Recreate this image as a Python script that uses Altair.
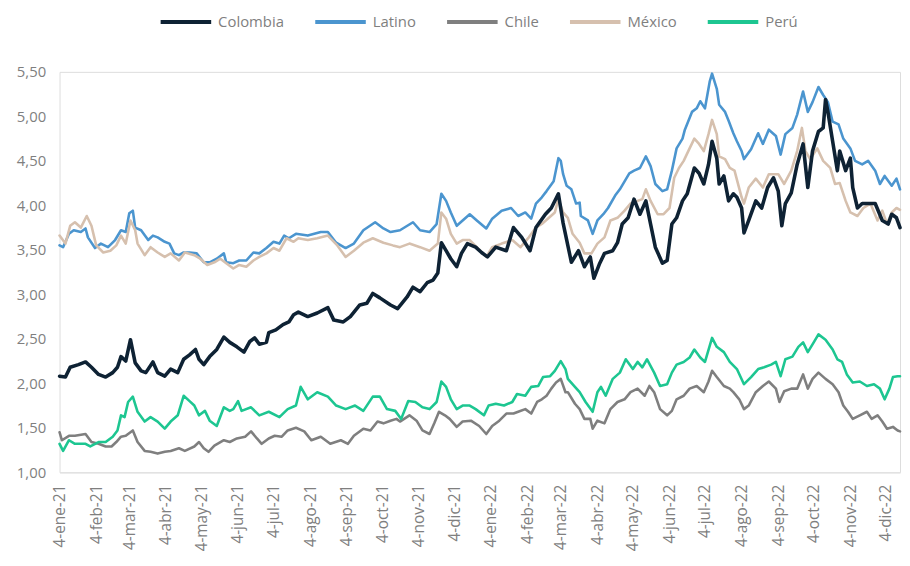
import altair as alt
import pandas as pd

SERIES = ["Colombia", "Latino", "Chile", "México", "Perú"]
COLORS = ["#0e2234", "#4b95cf", "#7f7f7f", "#d6c0ae", "#1dc691"]
WIDTHS = [3.6, 2.6, 2.6, 2.6, 2.6]
DRAW_ORDER = ["Latino", "México", "Chile", "Perú", "Colombia"]
MESES = ["ene", "feb", "mar", "abr", "may", "jun", "jul", "ago", "sep", "oct", "nov", "dic"]

colombia_dates = ["2021-01-04","2021-01-09","2021-01-13","2021-01-20","2021-01-26","2021-01-31","2021-02-06","2021-02-12","2021-02-18","2021-02-22","2021-02-25","2021-03-01","2021-03-05","2021-03-09","2021-03-14","2021-03-18","2021-03-24","2021-03-28","2021-04-03","2021-04-08","2021-04-14","2021-04-19","2021-04-24","2021-04-29","2021-05-02","2021-05-06","2021-05-11","2021-05-17","2021-05-23","2021-05-28","2021-06-03","2021-06-09","2021-06-14","2021-06-18","2021-06-22","2021-06-28","2021-06-30","2021-07-06","2021-07-12","2021-07-17","2021-07-21","2021-07-25","2021-08-02","2021-08-10","2021-08-19","2021-08-24","2021-09-01","2021-09-07","2021-09-15","2021-09-21","2021-09-26","2021-10-02","2021-10-11","2021-10-17","2021-10-25","2021-10-30","2021-11-05","2021-11-11","2021-11-16","2021-11-20","2021-11-23","2021-11-27","2021-12-01","2021-12-06","2021-12-10","2021-12-15","2021-12-22","2021-12-27","2022-01-01","2022-01-08","2022-01-17","2022-01-23","2022-01-30","2022-02-06","2022-02-11","2022-02-19","2022-02-24","2022-03-02","2022-03-06","2022-03-13","2022-03-19","2022-03-24","2022-03-29","2022-04-01","2022-04-06","2022-04-10","2022-04-17","2022-04-21","2022-04-25","2022-04-30","2022-05-05","2022-05-10","2022-05-15","2022-05-19","2022-05-23","2022-05-29","2022-06-02","2022-06-06","2022-06-10","2022-06-15","2022-06-19","2022-06-25","2022-06-29","2022-07-03","2022-07-07","2022-07-10","2022-07-14","2022-07-16","2022-07-20","2022-07-24","2022-07-28","2022-07-31","2022-08-04","2022-08-06","2022-08-10","2022-08-16","2022-08-21","2022-08-26","2022-08-31","2022-09-04","2022-09-07","2022-09-10","2022-09-15","2022-09-20","2022-09-25","2022-09-29","2022-10-03","2022-10-08","2022-10-12","2022-10-14","2022-10-16","2022-10-20","2022-10-24","2022-10-26","2022-10-31","2022-11-04","2022-11-06","2022-11-10","2022-11-14","2022-11-19","2022-11-25","2022-12-01","2022-12-06","2022-12-09","2022-12-13","2022-12-16"]
colombia_vals = [2.08,2.07,2.18,2.21,2.24,2.18,2.10,2.07,2.12,2.18,2.30,2.25,2.49,2.23,2.14,2.12,2.24,2.12,2.08,2.16,2.12,2.27,2.32,2.38,2.27,2.21,2.30,2.38,2.52,2.46,2.41,2.35,2.47,2.51,2.44,2.46,2.57,2.60,2.66,2.69,2.77,2.80,2.75,2.79,2.85,2.71,2.69,2.75,2.88,2.90,3.01,2.96,2.88,2.84,2.97,3.08,3.03,3.13,3.16,3.24,3.58,3.49,3.40,3.31,3.46,3.57,3.53,3.47,3.42,3.53,3.49,3.75,3.64,3.49,3.75,3.90,3.97,4.13,3.80,3.36,3.49,3.31,3.42,3.18,3.35,3.46,3.49,3.58,3.79,3.86,4.07,3.90,4.05,3.79,3.53,3.35,3.38,3.79,3.86,4.05,4.13,4.42,4.36,4.24,4.46,4.72,4.53,4.24,4.33,4.05,4.13,4.09,3.97,3.69,3.83,4.05,3.97,4.20,4.31,4.16,3.77,4.02,4.14,4.46,4.69,4.20,4.61,4.83,4.87,5.19,5.05,4.72,4.39,4.61,4.39,4.53,4.20,3.97,4.02,4.02,4.02,3.83,3.79,3.90,3.86,3.75]

latino_dates = ["2021-01-04","2021-01-07","2021-01-12","2021-01-16","2021-01-22","2021-01-26","2021-01-28","2021-02-03","2021-02-08","2021-02-14","2021-02-20","2021-02-25","2021-03-01","2021-03-04","2021-03-07","2021-03-09","2021-03-14","2021-03-20","2021-03-24","2021-03-28","2021-04-03","2021-04-07","2021-04-11","2021-04-15","2021-04-19","2021-04-24","2021-04-30","2021-05-06","2021-05-11","2021-05-17","2021-05-23","2021-05-25","2021-05-31","2021-06-05","2021-06-11","2021-06-17","2021-06-22","2021-06-28","2021-07-04","2021-07-09","2021-07-13","2021-07-17","2021-07-23","2021-08-02","2021-08-13","2021-08-19","2021-08-26","2021-09-03","2021-09-10","2021-09-18","2021-09-28","2021-10-05","2021-10-11","2021-10-19","2021-10-30","2021-11-05","2021-11-13","2021-11-19","2021-11-23","2021-11-27","2021-12-01","2021-12-06","2021-12-11","2021-12-17","2021-12-23","2021-12-31","2022-01-05","2022-01-13","2022-01-21","2022-01-27","2022-02-02","2022-02-07","2022-02-11","2022-02-16","2022-02-20","2022-02-26","2022-03-02","2022-03-04","2022-03-06","2022-03-09","2022-03-13","2022-03-17","2022-03-20","2022-03-21","2022-03-27","2022-03-31","2022-04-04","2022-04-09","2022-04-13","2022-04-19","2022-04-23","2022-04-27","2022-05-01","2022-05-05","2022-05-10","2022-05-15","2022-05-19","2022-05-23","2022-05-29","2022-06-02","2022-06-06","2022-06-10","2022-06-15","2022-06-17","2022-06-23","2022-06-27","2022-06-30","2022-07-04","2022-07-08","2022-07-10","2022-07-14","2022-07-16","2022-07-21","2022-07-24","2022-07-28","2022-07-31","2022-08-04","2022-08-06","2022-08-12","2022-08-18","2022-08-22","2022-08-27","2022-09-02","2022-09-06","2022-09-10","2022-09-16","2022-09-20","2022-09-25","2022-09-29","2022-10-03","2022-10-08","2022-10-12","2022-10-16","2022-10-20","2022-10-25","2022-10-29","2022-11-04","2022-11-08","2022-11-14","2022-11-19","2022-11-25","2022-11-29","2022-12-03","2022-12-09","2022-12-13","2022-12-16"]
latino_vals = [3.55,3.53,3.68,3.72,3.70,3.74,3.64,3.52,3.57,3.53,3.61,3.72,3.70,3.91,3.94,3.75,3.72,3.61,3.66,3.64,3.59,3.57,3.46,3.44,3.47,3.47,3.46,3.36,3.36,3.40,3.46,3.36,3.35,3.38,3.38,3.47,3.46,3.52,3.59,3.57,3.66,3.63,3.68,3.66,3.70,3.70,3.58,3.52,3.57,3.72,3.81,3.74,3.70,3.72,3.81,3.72,3.70,3.79,4.13,4.05,3.92,3.77,3.83,3.90,3.83,3.74,3.85,3.94,3.97,3.88,3.92,3.85,4.02,4.09,4.16,4.27,4.53,4.50,4.35,4.22,4.18,4.02,4.03,3.88,3.83,3.68,3.83,3.90,3.97,4.11,4.18,4.27,4.36,4.39,4.42,4.55,4.44,4.24,4.16,4.18,4.39,4.64,4.75,4.85,5.05,5.09,5.17,5.09,5.39,5.48,5.31,5.13,5.05,4.95,4.81,4.72,4.61,4.52,4.63,4.81,4.69,4.85,4.78,4.57,4.80,4.87,5.02,5.28,5.05,5.16,5.33,5.24,5.16,4.94,4.91,4.75,4.64,4.50,4.46,4.50,4.39,4.24,4.33,4.22,4.30,4.18]

chile_dates = ["2021-01-04","2021-01-06","2021-01-12","2021-01-17","2021-01-26","2021-01-31","2021-02-06","2021-02-12","2021-02-17","2021-02-21","2021-02-25","2021-03-01","2021-03-07","2021-03-11","2021-03-17","2021-03-22","2021-03-28","2021-04-03","2021-04-08","2021-04-15","2021-04-20","2021-04-28","2021-05-02","2021-05-06","2021-05-10","2021-05-15","2021-05-23","2021-05-28","2021-06-03","2021-06-10","2021-06-15","2021-06-20","2021-06-24","2021-06-30","2021-07-05","2021-07-11","2021-07-16","2021-07-23","2021-07-30","2021-08-05","2021-08-13","2021-08-21","2021-08-30","2021-09-05","2021-09-10","2021-09-18","2021-09-24","2021-09-30","2021-10-05","2021-10-11","2021-10-16","2021-10-19","2021-10-27","2021-11-02","2021-11-07","2021-11-13","2021-11-17","2021-11-21","2021-11-26","2021-11-30","2021-12-06","2021-12-11","2021-12-18","2021-12-25","2021-12-31","2022-01-05","2022-01-11","2022-01-17","2022-01-23","2022-01-27","2022-02-02","2022-02-07","2022-02-12","2022-02-16","2022-02-20","2022-02-24","2022-02-28","2022-03-04","2022-03-08","2022-03-10","2022-03-16","2022-03-20","2022-03-24","2022-03-29","2022-03-31","2022-04-04","2022-04-10","2022-04-15","2022-04-21","2022-04-27","2022-05-02","2022-05-08","2022-05-14","2022-05-18","2022-05-22","2022-05-27","2022-06-02","2022-06-06","2022-06-10","2022-06-16","2022-06-21","2022-06-27","2022-07-03","2022-07-07","2022-07-10","2022-07-14","2022-07-20","2022-07-25","2022-07-28","2022-08-02","2022-08-06","2022-08-10","2022-08-16","2022-08-22","2022-08-27","2022-09-02","2022-09-05","2022-09-09","2022-09-15","2022-09-20","2022-09-25","2022-09-29","2022-10-03","2022-10-08","2022-10-14","2022-10-20","2022-10-25","2022-10-29","2022-11-02","2022-11-06","2022-11-12","2022-11-18","2022-11-22","2022-11-27","2022-12-01","2022-12-05","2022-12-10","2022-12-14","2022-12-16"]
chile_vals = [1.45,1.36,1.41,1.41,1.43,1.34,1.32,1.29,1.29,1.34,1.40,1.41,1.47,1.34,1.24,1.23,1.21,1.23,1.24,1.27,1.24,1.29,1.34,1.27,1.23,1.30,1.36,1.34,1.38,1.40,1.46,1.38,1.32,1.38,1.41,1.40,1.47,1.50,1.46,1.36,1.40,1.32,1.36,1.32,1.41,1.49,1.47,1.57,1.55,1.58,1.60,1.57,1.64,1.58,1.47,1.43,1.55,1.68,1.64,1.60,1.51,1.57,1.58,1.52,1.43,1.52,1.58,1.66,1.66,1.68,1.71,1.66,1.79,1.82,1.86,1.94,2.01,2.05,1.90,1.90,1.77,1.71,1.60,1.60,1.49,1.58,1.55,1.71,1.79,1.82,1.90,1.94,1.86,1.97,1.90,1.71,1.64,1.69,1.82,1.86,1.94,1.97,1.90,2.02,2.14,2.07,1.97,1.94,1.90,1.82,1.71,1.75,1.90,1.97,2.02,1.94,1.79,1.91,1.94,1.94,2.10,1.94,2.05,2.12,2.05,1.99,1.90,1.75,1.68,1.60,1.64,1.68,1.60,1.64,1.57,1.49,1.51,1.47,1.46]

mexico_dates = ["2021-01-04","2021-01-09","2021-01-13","2021-01-17","2021-01-22","2021-01-27","2021-01-31","2021-02-04","2021-02-10","2021-02-16","2021-02-21","2021-02-25","2021-03-01","2021-03-05","2021-03-09","2021-03-11","2021-03-17","2021-03-22","2021-03-28","2021-04-03","2021-04-08","2021-04-15","2021-04-20","2021-04-28","2021-05-03","2021-05-09","2021-05-15","2021-05-20","2021-05-25","2021-05-31","2021-06-05","2021-06-11","2021-06-17","2021-06-22","2021-06-28","2021-07-04","2021-07-09","2021-07-15","2021-07-21","2021-07-25","2021-08-02","2021-08-10","2021-08-19","2021-08-27","2021-09-03","2021-09-10","2021-09-18","2021-09-26","2021-10-05","2021-10-13","2021-10-19","2021-10-27","2021-11-05","2021-11-13","2021-11-20","2021-11-23","2021-11-27","2021-12-01","2021-12-06","2021-12-11","2021-12-17","2021-12-23","2021-12-31","2022-01-05","2022-01-13","2022-01-22","2022-01-29","2022-02-05","2022-02-11","2022-02-16","2022-02-22","2022-02-27","2022-03-02","2022-03-06","2022-03-10","2022-03-14","2022-03-20","2022-03-24","2022-03-30","2022-04-04","2022-04-10","2022-04-15","2022-04-21","2022-04-27","2022-05-02","2022-05-08","2022-05-12","2022-05-15","2022-05-19","2022-05-25","2022-05-30","2022-06-04","2022-06-08","2022-06-12","2022-06-16","2022-06-21","2022-06-25","2022-06-29","2022-07-03","2022-07-07","2022-07-10","2022-07-14","2022-07-16","2022-07-21","2022-07-25","2022-07-29","2022-08-04","2022-08-06","2022-08-10","2022-08-16","2022-08-22","2022-08-27","2022-09-04","2022-09-09","2022-09-15","2022-09-20","2022-09-24","2022-09-27","2022-10-01","2022-10-07","2022-10-12","2022-10-18","2022-10-22","2022-10-26","2022-10-31","2022-11-04","2022-11-10","2022-11-15","2022-11-21","2022-11-27","2022-12-01","2022-12-05","2022-12-09","2022-12-13","2022-12-16"]
mexico_vals = [3.66,3.57,3.77,3.81,3.75,3.88,3.77,3.55,3.47,3.49,3.55,3.66,3.57,3.83,3.72,3.57,3.44,3.53,3.47,3.42,3.46,3.38,3.47,3.44,3.40,3.33,3.36,3.40,3.35,3.29,3.33,3.31,3.38,3.42,3.46,3.52,3.49,3.63,3.59,3.63,3.61,3.63,3.66,3.55,3.42,3.49,3.58,3.63,3.58,3.55,3.53,3.57,3.53,3.49,3.57,3.92,3.85,3.68,3.57,3.61,3.61,3.53,3.42,3.53,3.57,3.61,3.53,3.64,3.75,3.79,3.86,3.92,4.07,3.92,3.86,3.68,3.58,3.46,3.46,3.57,3.64,3.83,3.86,3.94,4.02,4.05,4.07,4.18,4.05,3.90,3.90,3.97,4.31,4.42,4.50,4.64,4.75,4.69,4.61,4.80,4.96,4.80,4.55,4.52,4.42,4.39,4.09,4.02,4.20,4.30,4.20,4.35,4.35,4.24,4.39,4.61,4.87,4.61,4.52,4.64,4.50,4.42,4.24,4.25,4.05,3.92,3.88,3.97,4.02,3.83,3.94,3.79,3.92,3.97,3.95]

peru_dates = ["2021-01-04","2021-01-07","2021-01-12","2021-01-17","2021-01-26","2021-01-30","2021-02-06","2021-02-12","2021-02-18","2021-02-22","2021-02-25","2021-02-28","2021-03-03","2021-03-07","2021-03-11","2021-03-17","2021-03-22","2021-03-28","2021-04-03","2021-04-08","2021-04-14","2021-04-19","2021-04-24","2021-04-28","2021-05-02","2021-05-07","2021-05-11","2021-05-17","2021-05-23","2021-05-28","2021-05-31","2021-06-04","2021-06-07","2021-06-15","2021-06-22","2021-06-30","2021-07-09","2021-07-16","2021-07-23","2021-07-27","2021-08-02","2021-08-10","2021-08-19","2021-08-26","2021-09-03","2021-09-11","2021-09-18","2021-09-26","2021-10-02","2021-10-08","2021-10-15","2021-10-20","2021-10-26","2021-11-01","2021-11-07","2021-11-13","2021-11-19","2021-11-23","2021-11-27","2021-12-01","2021-12-06","2021-12-11","2021-12-17","2021-12-22","2021-12-29","2022-01-02","2022-01-08","2022-01-15","2022-01-22","2022-01-26","2022-02-02","2022-02-07","2022-02-13","2022-02-17","2022-02-23","2022-02-27","2022-03-04","2022-03-08","2022-03-10","2022-03-16","2022-03-20","2022-03-25","2022-03-31","2022-04-04","2022-04-07","2022-04-11","2022-04-17","2022-04-23","2022-04-28","2022-05-04","2022-05-08","2022-05-12","2022-05-16","2022-05-22","2022-05-27","2022-06-02","2022-06-06","2022-06-10","2022-06-16","2022-06-21","2022-06-25","2022-06-30","2022-07-04","2022-07-10","2022-07-14","2022-07-20","2022-07-25","2022-07-31","2022-08-06","2022-08-12","2022-08-18","2022-08-23","2022-08-29","2022-09-02","2022-09-06","2022-09-10","2022-09-16","2022-09-21","2022-09-25","2022-09-29","2022-10-04","2022-10-08","2022-10-14","2022-10-20","2022-10-24","2022-10-28","2022-11-01","2022-11-06","2022-11-12","2022-11-18","2022-11-24","2022-11-29","2022-12-03","2022-12-07","2022-12-10","2022-12-14","2022-12-16"]
peru_vals = [1.32,1.24,1.36,1.32,1.32,1.29,1.34,1.34,1.40,1.47,1.64,1.62,1.79,1.85,1.68,1.57,1.62,1.57,1.49,1.57,1.64,1.86,1.80,1.75,1.64,1.69,1.58,1.52,1.73,1.69,1.71,1.80,1.69,1.73,1.64,1.68,1.62,1.71,1.75,1.96,1.82,1.90,1.85,1.75,1.71,1.75,1.69,1.85,1.85,1.71,1.69,1.60,1.80,1.79,1.73,1.71,1.79,2.02,1.96,1.82,1.71,1.75,1.75,1.71,1.64,1.75,1.77,1.75,1.79,1.88,1.86,1.96,1.97,2.07,2.08,2.14,2.25,2.16,2.05,1.96,1.90,1.79,1.68,1.90,1.96,1.86,2.05,2.12,2.27,2.16,2.24,2.18,2.27,2.12,1.97,1.99,2.12,2.21,2.24,2.29,2.38,2.29,2.24,2.51,2.41,2.35,2.24,2.16,1.99,2.07,2.16,2.18,2.21,2.24,2.08,2.27,2.30,2.41,2.46,2.35,2.46,2.55,2.49,2.38,2.27,2.24,2.10,2.01,2.02,1.97,1.99,1.94,1.82,1.94,2.07,2.08,2.08]

Y_TICKS = [1.0, 1.5, 2.0, 2.5, 3.0, 3.5, 4.0, 4.5, 5.0, 5.5]
X_TICKS = [(y, m) for y in (2021, 2022) for m in range(1, 13)]

series_data = {
    "Colombia": (colombia_dates, colombia_vals),
    "Latino": (latino_dates, latino_vals),
    "Chile": (chile_dates, chile_vals),
    "México": (mexico_dates, mexico_vals),
    "Perú": (peru_dates, peru_vals),
}

frames = []
for name, (d, v) in series_data.items():
    frames.append(pd.DataFrame({"fecha": pd.to_datetime(d), "valor": v, "serie": name}))
df = pd.concat(frames, ignore_index=True)

GRAY = "#7f7f7f"
FONT = "Open Sans"

month_arr = "[" + ",".join("'%s'" % m for m in MESES) + "]"
x_label_expr = "'4-' + " + month_arr + "[month(datum.value)] + '-' + timeFormat(datum.value, '%y')"

x_enc = alt.X(
    "fecha:T",
    scale=alt.Scale(domain=[alt.DateTime(year=2021, month=1, date=4),
                            alt.DateTime(year=2022, month=12, date=16)]),
    axis=alt.Axis(
        values=[alt.DateTime(year=y, month=m, date=4) for y, m in X_TICKS],
        labelExpr=x_label_expr,
        labelAngle=270,
        labelFontSize=15.5,
        labelColor=GRAY,
        labelFont=FONT,
        labelPadding=12,
        labelOverlap=False,
        labelFlush=False,
        ticks=False,
        grid=False,
        domainColor="#e2e2e2",
        domainWidth=1.5,
        title=None,
    ),
)
y_enc = alt.Y(
    "valor:Q",
    scale=alt.Scale(domain=[1.0, 5.5], nice=False, zero=False),
    axis=alt.Axis(
        values=Y_TICKS,
        labelExpr="replace(format(datum.value, '.2f'), '.', ',')",
        labelFontSize=15,
        labelColor=GRAY,
        labelFont=FONT,
        labelPadding=14,
        domain=False,
        ticks=False,
        grid=False,
        title=None,
    ),
)
color_enc = alt.Color(
    "serie:N",
    scale=alt.Scale(domain=SERIES, range=COLORS),
    legend=alt.Legend(
        title=None,
        orient="none",
        direction="horizontal",
        legendX=100,
        legendY=-78,
        symbolType="stroke",
        symbolSize=2600,
        symbolStrokeWidth=4,
        labelFontSize=15,
        labelColor=GRAY,
        labelFont=FONT,
        labelOffset=5,
        columnPadding=23,
        padding=0,
    ),
)

base = alt.Chart(df)
layers = []
for s in DRAW_ORDER:
    w = WIDTHS[SERIES.index(s)]
    layers.append(
        base.transform_filter(alt.datum.serie == s)
        .mark_line(strokeWidth=w, strokeJoin="round", strokeCap="round")
        .encode(x=x_enc, y=y_enc, color=color_enc)
    )

chart = (
    alt.layer(*layers)
    .properties(
        width=848,
        height=404,
        padding={"left": 52, "top": 62, "right": 2, "bottom": 78},
        autosize=alt.AutoSizeParams(type="none"),
    )
    .configure_view(stroke=None)
    .configure(font=FONT)
)

chart.save("out.html", embed_options={"renderer": "svg", "actions": False})
